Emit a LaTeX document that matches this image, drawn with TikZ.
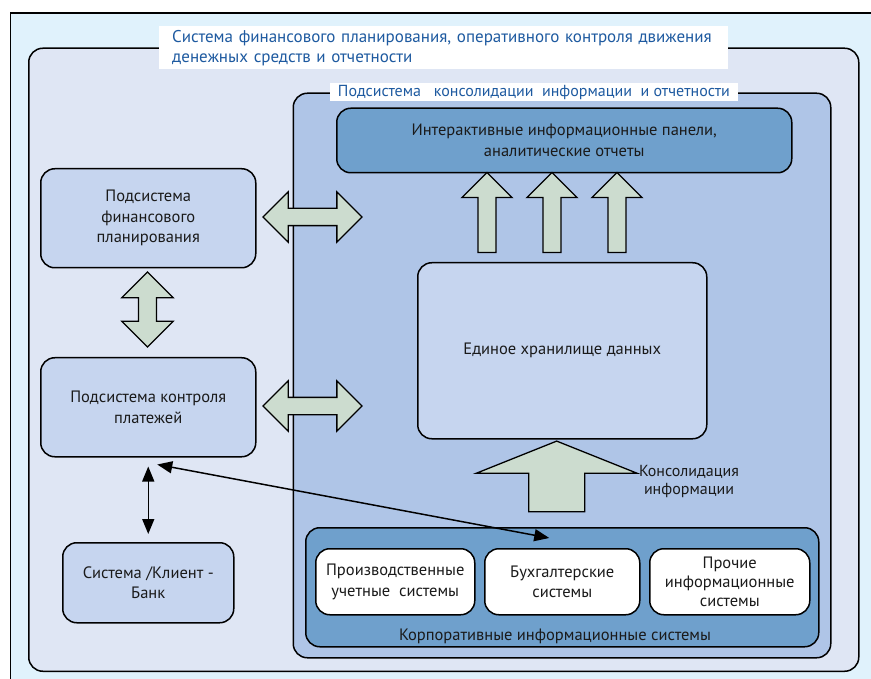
\documentclass[tikz,border=0pt]{standalone}
\usepackage{fontspec}
\setmainfont{PT Sans}
\usetikzlibrary{shapes.arrows,arrows.meta}
\definecolor{framebg}{HTML}{E0F2FC}
\definecolor{mainbg}{HTML}{DFE6F4}
\definecolor{subbg}{HTML}{AFC5E7}
\definecolor{darkbg}{HTML}{6FA0CC}
\definecolor{boxbg}{HTML}{C6D5EF}
\definecolor{arrowfill}{HTML}{CCDCCF}
\definecolor{titleblue}{HTML}{1E5AA0}
\definecolor{txt}{HTML}{1A1A1A}
\begin{document}
\begin{tikzpicture}[x=1pt,y=-1pt]
  \tikzstyle{every node}=[font=\fontsize{16.5}{20.5}\selectfont,text=txt,inner sep=0pt]
  \tikzstyle{box}=[draw,line width=1.5pt,rounded corners=14pt,align=center,anchor=north west]
  \tikzstyle{fat}=[draw,line width=1.3pt,fill=arrowfill,inner xsep=0pt]
  \tikzstyle{thin}=[line width=1.5pt,{Triangle[length=15pt,width=12pt]}-{Triangle[length=15pt,width=12pt]}]
  \useasboundingbox (0,0) rectangle (871,679);
  \node [draw,line width=1.8pt,fill=framebg,minimum width=900pt,minimum height=700pt,anchor=north west] (frame) at (9.5,12.5) {};
  \node [box,fill=mainbg,minimum width=830pt,minimum height=623pt] (main) at (28,47.5) {};
  \node [fill=white,anchor=north west,minimum width=569pt,minimum height=43pt,text width=543pt,inner xsep=13pt,align=left,text=titleblue,font=\fontsize{17}{20}\selectfont] (title) at (159,26)
    {Система финансового планирования, оперативного контроля движения\\денежных средств и отчетности};
  \node [box,fill=subbg,minimum width=537.5pt,minimum height=564.5pt] (sub) at (292.5,92.5) {};
  \node [fill=white,anchor=north west,minimum width=407.5pt,minimum height=18pt,text=titleblue,font=\fontsize{16}{18}\selectfont] (sublabel) at (330,83)
    {Подсистема\ \ \ консолидации\ \ информации\ \ и отчетности};
  \node [box,fill=darkbg,minimum width=455pt,minimum height=64.5pt] (panel) at (336,107.5)
    {Интерактивные информационные панели,\\аналитические отчеты};
  \node [box,fill=boxbg,minimum width=289pt,minimum height=176pt] (store) at (417,262) {Единое хранилище данных};
  \node [box,fill=boxbg,minimum width=215pt,minimum height=99pt] (fp) at (40,168) {Подсистема\\финансового\\планирования};
  \node [box,fill=boxbg,minimum width=215pt,minimum height=99pt] (pc) at (40,357) {Подсистема контроля\\платежей};
  \node [box,fill=boxbg,minimum width=171pt,minimum height=80pt] (bank) at (62,542) {Система /Клиент -\\Банк};
  \node [box,fill=darkbg,minimum width=513pt,minimum height=119pt] (corp) at (305,527) {};
  \node [box,fill=white,minimum width=159pt,minimum height=66pt] (b1) at (315,548) {Производственные\\учетные\ \ системы};
  \node [box,fill=white,minimum width=155pt,minimum height=66pt] (b2) at (484,548) {Бухгалтерские\\системы};
  \node [box,fill=white,minimum width=160pt,minimum height=66pt,font=\fontsize{16.5}{19}\selectfont] (b3) at (649,548) {Прочие\\информационные\\системы};
  \node (corplabel) at (555,636) {Корпоративные информационные системы};
  \node [align=center,font=\fontsize{16}{18}\selectfont] (conslabel) at (689,481) {Консолидация\\информации};
  \node [fat,double arrow,double arrow head extend=16.5pt,inner ysep=8pt,minimum height=99pt] (h1) at (312.5,217) {};
  \node [fat,double arrow,double arrow head extend=16.5pt,inner ysep=8pt,minimum height=99pt] (h2) at (312.5,406) {};
  \node [fat,double arrow,double arrow head extend=16.7pt,inner ysep=8.3pt,minimum height=75pt,rotate=90] (v1) at (147.5,309.5) {};
  \node [fat,single arrow,single arrow head extend=16pt,inner ysep=8.3pt,minimum height=80pt,rotate=90] (u1) at (487,217) {};
  \node [fat,single arrow,single arrow head extend=16pt,inner ysep=8.3pt,minimum height=80pt,rotate=90] (u2) at (552,217) {};
  \node [fat,single arrow,single arrow head extend=16pt,inner ysep=8.3pt,minimum height=80pt,rotate=90] (u3) at (617,217) {};
  \node [fat,single arrow,single arrow head extend=52.6pt,single arrow tip angle=136.4,inner ysep=27.3pt,minimum height=70.6pt,rotate=90] (cons) at (556.7,482) {};
  \draw [thin] ([shift={(0,9)}]pc.south) -- ([shift={(0,-8)}]bank.north);
  \draw [thin] ([shift={(9,7)}]pc.south) -- ([shift={(-13,-10)}]b2.north);
\end{tikzpicture}
\end{document}
